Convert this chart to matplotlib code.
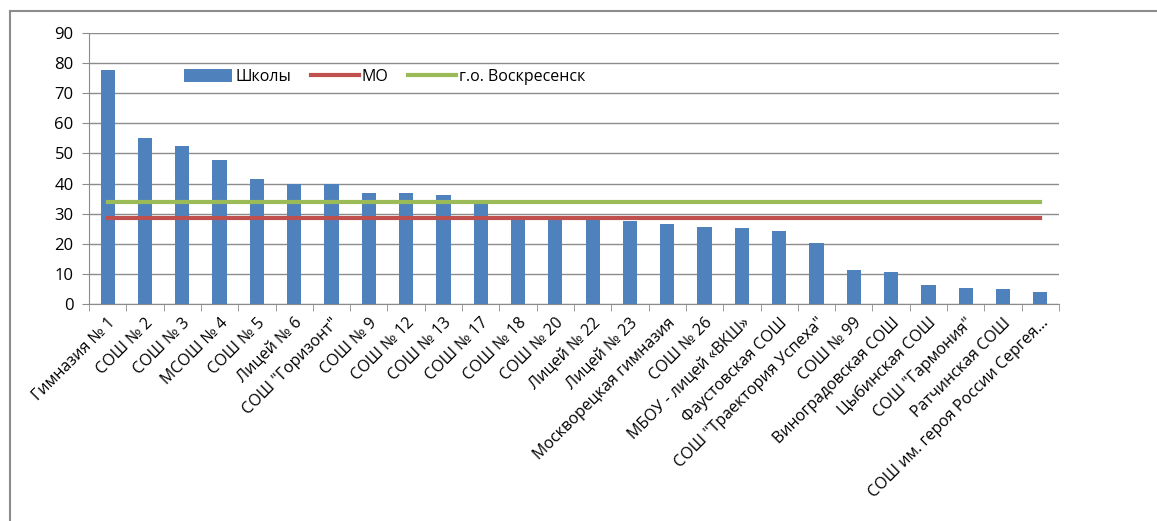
import matplotlib.pyplot as plt
import numpy as np
from matplotlib.lines import Line2D

schools = ["Гимназия № 1", "СОШ № 2", "СОШ № 3", "МСОШ № 4", "СОШ № 5", "Лицей № 6",
           "СОШ \"Горизонт\"", "СОШ № 9", "СОШ № 12", "СОШ № 13", "СОШ № 17", "СОШ № 18",
           "СОШ № 20", "Лицей № 22", "Лицей № 23", "Москворецкая гимназия", "СОШ № 26",
           "МБОУ - лицей «ВКШ»", "Фаустовская СОШ", "СОШ \"Траектория Успеха\"", "СОШ № 99",
           "Виноградовская СОШ", "Цыбинская СОШ", "СОШ \"Гармония\"", "Ратчинская СОШ",
           "СОШ им. героя России Сергея…"]
values = [77.8, 55.0, 52.6, 47.7, 41.4, 39.8, 39.8, 36.7, 36.7, 36.2, 33.8, 28.5,
          28.5, 28.6, 27.6, 26.6, 25.6, 25.1, 24.2, 20.2, 11.2, 10.7, 6.3, 5.4, 4.9, 3.9]
mo_value = 28.7
city_value = 34.0

plt.rcParams['font.family'] = ['Open Sans', 'DejaVu Sans']

fig = plt.figure(figsize=(11.57, 5.21), dpi=100)
ax = fig.add_axes([89 / 1157, 1 - 304 / 521, 970 / 1157, 271 / 521])

x = np.arange(len(schools))
bars = ax.bar(x, values, width=0.38, color='#4F81BD', label='Школы', zorder=2)
mo_line, = ax.plot([x[0], x[-1]], [mo_value, mo_value], color='#C0504D', lw=3,
                   label='МО', zorder=3)
city_line, = ax.plot([x[0], x[-1]], [city_value, city_value], color='#9BBB59', lw=3,
                     label='г.о. Воскресенск', zorder=3)

ax.set_xlim(-0.5, len(schools) - 0.5)
ax.set_ylim(0, 90)
ax.set_yticks(np.arange(0, 91, 10))
ax.yaxis.grid(True, color='#8c8c8c', lw=1, zorder=0)
ax.set_axisbelow(True)

ax.set_xticks(x)
ax.set_xticklabels(schools, rotation=45, ha='right', rotation_mode='anchor', fontsize=11.5)
ax.set_xticks(np.arange(-0.5, len(schools)), minor=True)
ax.tick_params(axis='x', which='major', length=0, pad=8)
ax.tick_params(axis='x', which='minor', length=5, color='#8c8c8c')
ax.tick_params(axis='y', length=5, color='#8c8c8c', labelsize=12, pad=6)

for s in ['top', 'right']:
    ax.spines[s].set_visible(False)
for s in ['left', 'bottom']:
    ax.spines[s].set_color('#8c8c8c')

ax.legend(handles=[bars, mo_line, city_line], loc='center', bbox_to_anchor=(0.305, 0.838),
          ncol=3, frameon=False, fontsize=11.5, handlelength=3.0, handleheight=0.9,
          columnspacing=1.2, handletextpad=0.2)

# outer frame (left and top)
fig.add_artist(Line2D([10 / 1157, 10 / 1157], [0, 1 - 11 / 521], color='#8c8c8c', lw=1.5))
fig.add_artist(Line2D([10 / 1157, 1], [1 - 11 / 521, 1 - 11 / 521], color='#8c8c8c', lw=1.5))

fig.savefig('out.png', dpi=100)
